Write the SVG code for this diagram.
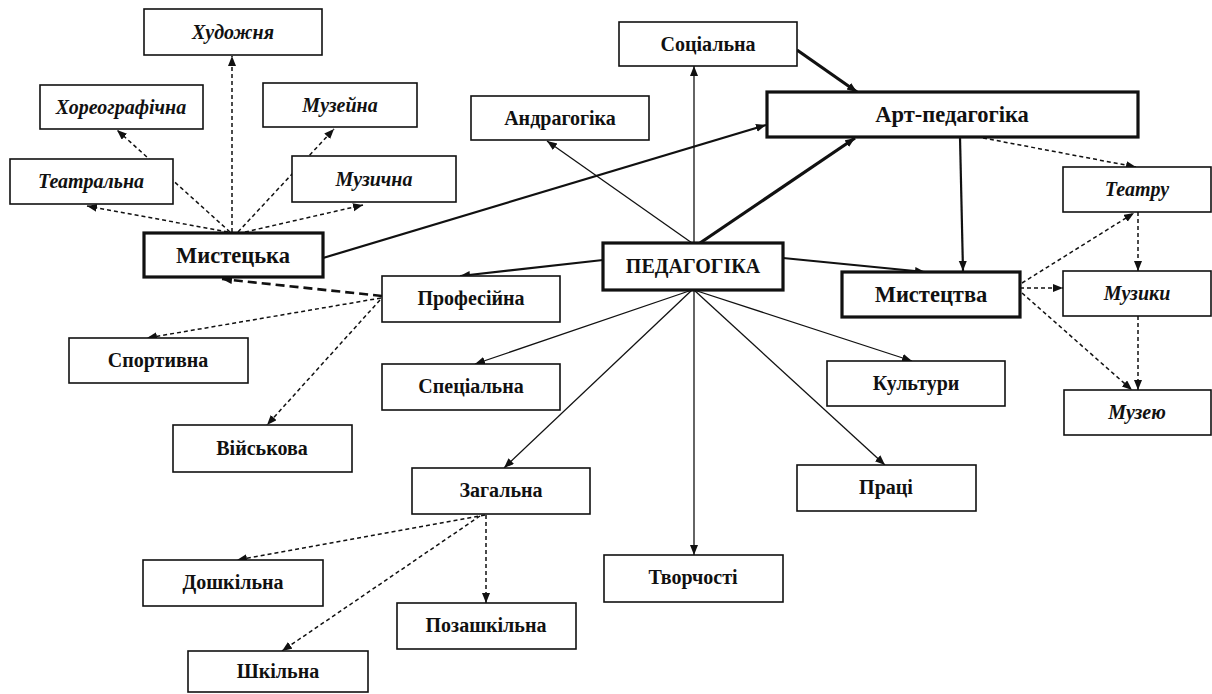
<svg xmlns="http://www.w3.org/2000/svg" width="1212" height="694" viewBox="0 0 1212 694">
<style>
.bx{fill:#fff;stroke:#111;stroke-width:1.6}
.bk{fill:#fff;stroke:#111;stroke-width:3.2}
.t{font-family:"Liberation Serif","Times New Roman",serif;font-weight:bold;font-size:20px;fill:#111;text-anchor:middle}
.i{font-style:italic}
.big{font-size:22.5px}
.s{fill:none;stroke:#111;stroke-width:1.3;marker-end:url(#ah)}
.s2{fill:none;stroke:#111;stroke-width:2.2;marker-end:url(#ah)}
.s3{fill:none;stroke:#111;stroke-width:3.2;marker-end:url(#ah)}
.d{fill:none;stroke:#111;stroke-width:1.5;stroke-dasharray:4 3;marker-end:url(#ah)}
.d2{fill:none;stroke:#111;stroke-width:2.6;stroke-dasharray:9 5;marker-end:url(#ah)}
</style>
<defs>
<marker id="ah" markerUnits="userSpaceOnUse" markerWidth="12" markerHeight="10" refX="10" refY="4" orient="auto">
<path d="M0,0 L10,4 L0,8 z" fill="#111"/>
</marker>
</defs>
<rect width="1212" height="694" fill="#fff"/>
<g id="connectors">
<line class="s" x1="694" y1="243" x2="694" y2="66"/>
<line class="s" x1="692" y1="243" x2="547" y2="141"/>
<line class="s" x1="692" y1="290" x2="475" y2="364"/>
<line class="s" x1="692" y1="290" x2="504" y2="468"/>
<line class="s" x1="694" y1="290" x2="694" y2="555"/>
<line class="s" x1="694" y1="290" x2="912" y2="361"/>
<line class="s" x1="694" y1="290" x2="885" y2="465"/>
<line class="s3" x1="700" y1="243" x2="855" y2="138"/>
<line class="s3" x1="797" y1="50" x2="857" y2="92"/>
<line class="s2" x1="323" y1="258" x2="766" y2="125"/>
<line class="s2" x1="603" y1="260" x2="460" y2="276"/>
<line class="s2" x1="783" y1="258" x2="925" y2="272"/>
<line class="s2" x1="960" y1="137" x2="963" y2="271"/>
<line class="d" x1="232" y1="232" x2="232" y2="56"/>
<line class="d" x1="230" y1="232" x2="117" y2="130"/>
<line class="d" x1="228" y1="232" x2="87" y2="206"/>
<line class="d" x1="238" y1="232" x2="334" y2="129"/>
<line class="d" x1="245" y1="232" x2="363" y2="205"/>
<line class="d2" x1="382" y1="296" x2="222" y2="279"/>
<line class="d" x1="381" y1="298" x2="147" y2="338"/>
<line class="d" x1="380" y1="300" x2="267" y2="425"/>
<line class="d" x1="485" y1="515" x2="237" y2="560"/>
<line class="d" x1="486" y1="515" x2="486" y2="603"/>
<line class="d" x1="480" y1="516" x2="282" y2="651"/>
<line class="d" x1="983" y1="138" x2="1136" y2="167"/>
<line class="d" x1="1022" y1="283" x2="1134" y2="213"/>
<line class="d" x1="1138" y1="212" x2="1138" y2="271"/>
<line class="d" x1="1020" y1="288" x2="1063" y2="288"/>
<line class="d" x1="1022" y1="293" x2="1132" y2="390"/>
<line class="d" x1="1138" y1="316" x2="1138" y2="390"/>
</g>
<g id="n-khudozhnia"><rect class="bx" x="144" y="9" width="178" height="46"/><text class="t i" x="233" y="39">Художня</text></g>
<g id="n-khoreohrafichna"><rect class="bx" x="40" y="85" width="163" height="44"/><text class="t i" x="121" y="114">Хореографічна</text></g>
<g id="n-muzeina"><rect class="bx" x="263" y="83" width="154" height="44"/><text class="t i" x="340" y="112">Музейна</text></g>
<g id="n-teatralna"><rect class="bx" x="10" y="159" width="163" height="45"/><text class="t i" x="91" y="188">Театральна</text></g>
<g id="n-muzychna"><rect class="bx" x="292" y="156" width="164" height="46"/><text class="t i" x="374" y="186">Музична</text></g>
<g id="n-mystetska"><rect class="bk" x="144" y="233" width="179" height="44"/><text class="t big" x="233" y="263">Мистецька</text></g>
<g id="n-sotsialna"><rect class="bx" x="619" y="22" width="178" height="44"/><text class="t" x="708" y="51">Соціальна</text></g>
<g id="n-andrahohika"><rect class="bx" x="471" y="96" width="178" height="44"/><text class="t" x="560" y="125">Андрагогіка</text></g>
<g id="n-art"><rect class="bk" x="767" y="92" width="371" height="45"/><text class="t big" x="952" y="122">Арт-педагогіка</text></g>
<g id="n-pedahohika"><rect class="bk" x="603" y="243" width="180" height="47"/><text class="t" x="693" y="273">ПЕДАГОГІКА</text></g>
<g id="n-profesiina"><rect class="bx" x="382" y="276" width="178" height="46"/><text class="t" x="471" y="305">Професійна</text></g>
<g id="n-mystetstva"><rect class="bk" x="842" y="272" width="178" height="45"/><text class="t big" x="931" y="302">Мистецтва</text></g>
<g id="n-teatru"><rect class="bx" x="1063" y="167" width="148" height="45"/><text class="t i" x="1137" y="196">Театру</text></g>
<g id="n-muzyky"><rect class="bx" x="1063" y="271" width="148" height="45"/><text class="t i" x="1137" y="300">Музики</text></g>
<g id="n-muzeiu"><rect class="bx" x="1064" y="390" width="147" height="45"/><text class="t i" x="1137" y="419">Музею</text></g>
<g id="n-sportyvna"><rect class="bx" x="69" y="338" width="179" height="45"/><text class="t" x="158" y="367">Спортивна</text></g>
<g id="n-viiskova"><rect class="bx" x="173" y="425" width="179" height="47"/><text class="t" x="262" y="455">Військова</text></g>
<g id="n-spetsialna"><rect class="bx" x="382" y="364" width="178" height="46"/><text class="t" x="471" y="393">Спеціальна</text></g>
<g id="n-kultury"><rect class="bx" x="827" y="361" width="178" height="45"/><text class="t" x="916" y="390">Культури</text></g>
<g id="n-zahalna"><rect class="bx" x="412" y="468" width="178" height="46"/><text class="t" x="501" y="497">Загальна</text></g>
<g id="n-pratsi"><rect class="bx" x="797" y="465" width="179" height="46"/><text class="t" x="886" y="494">Праці</text></g>
<g id="n-tvorchosti"><rect class="bx" x="604" y="555" width="179" height="47"/><text class="t" x="693" y="584">Творчості</text></g>
<g id="n-doshkilna"><rect class="bx" x="143" y="560" width="180" height="46"/><text class="t" x="233" y="589">Дошкільна</text></g>
<g id="n-pozashkilna"><rect class="bx" x="397" y="603" width="179" height="46"/><text class="t" x="486" y="632">Позашкільна</text></g>
<g id="n-shkilna"><rect class="bx" x="188" y="651" width="180" height="41"/><text class="t" x="278" y="678">Шкільна</text></g>
</svg>
